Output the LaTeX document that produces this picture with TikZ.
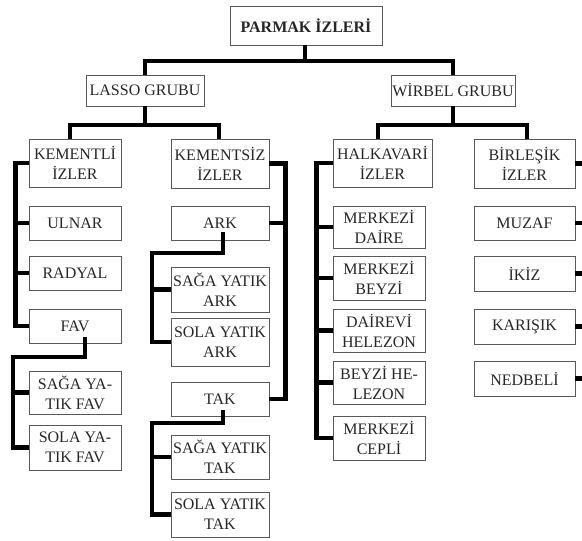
\documentclass[tikz,border=0pt]{standalone}
\usepackage{fontspec}
\setmainfont{Liberation Serif}
\begin{document}
\begin{tikzpicture}[x=1pt,y=-1pt,
  box/.style={draw=black!65, line width=0.8pt, inner sep=0pt, align=center,
    font=\fontsize{16}{20}\selectfont, text=black!85},
  bus/.style={line width=4.5pt, line join=miter}]
\useasboundingbox (0,0) rectangle (582,541);
% top levels
\node[box, font=\bfseries\fontsize{16}{20}\selectfont, minimum width=152pt, minimum height=39pt] (top) at (306,25.5) {PARMAK İZLERİ};
\node[box, minimum width=118pt, minimum height=31pt] (lasso) at (145,90.5) {LASSO GRUBU};
\node[box, minimum width=124pt, minimum height=31pt] (wirbel) at (453,90.5) {WİRBEL GRUBU};
% lasso column 1
\node[box, minimum width=92pt, minimum height=48pt] (kementli) at (75,163) {KEMENTLİ\\İZLER};
\node[box, minimum width=92pt, minimum height=34pt] (ulnar) at (75,223) {ULNAR};
\node[box, minimum width=92pt, minimum height=34pt] (radyal) at (75,273) {RADYAL};
\node[box, minimum width=92pt, minimum height=34pt] (fav) at (75,326) {FAV};
\node[box, minimum width=92pt, minimum height=43pt] (sagafav) at (75,392.5) {SAĞA YA-\\TIK FAV};
\node[box, minimum width=92pt, minimum height=45pt] (solafav) at (75,447.5) {SOLA YA-\\TIK FAV};
% lasso column 2
\node[box, minimum width=98pt, minimum height=49pt] (kementsiz) at (220,163.5) {KEMENTSİZ\\İZLER};
\node[box, minimum width=98pt, minimum height=34pt] (ark) at (220,223) {ARK};
\node[box, minimum width=98pt, minimum height=45pt] (sagaark) at (220,289.5) {SAĞA YATIK\\ARK};
\node[box, minimum width=98pt, minimum height=48pt] (solaark) at (220,342) {SOLA YATIK\\ARK};
\node[box, minimum width=98pt, minimum height=34pt] (tak) at (220,399) {TAK};
\node[box, minimum width=98pt, minimum height=44pt] (sagatak) at (220,457) {SAĞA YATIK\\TAK};
\node[box, minimum width=98pt, minimum height=45pt] (solatak) at (220,514.5) {SOLA YATIK\\TAK};
% wirbel column 1
\node[box, minimum width=99pt, minimum height=48pt] (halka) at (382.5,163) {HALKAVARİ\\İZLER};
\node[box, minimum width=92pt, minimum height=42pt] (mdaire) at (379,227) {MERKEZİ\\DAİRE};
\node[box, minimum width=92pt, minimum height=44pt] (mbeyzi) at (379,278) {MERKEZİ\\BEYZİ};
\node[box, minimum width=92pt, minimum height=43pt] (dhelezon) at (379,330.5) {DAİREVİ\\HELEZON};
\node[box, minimum width=92pt, minimum height=43pt] (bhelezon) at (379,382.5) {BEYZİ HE-\\LEZON};
\node[box, minimum width=92pt, minimum height=44pt] (mcepli) at (379,438) {MERKEZİ\\CEPLİ};
% wirbel column 2
\node[box, minimum width=101pt, minimum height=49pt] (birlesik) at (524.5,163.5) {BİRLEŞİK\\İZLER};
\node[box, minimum width=101pt, minimum height=34pt] (muzaf) at (524.5,223) {MUZAF};
\node[box, minimum width=101pt, minimum height=35pt] (ikiz) at (524.5,273.5) {İKİZ};
\node[box, minimum width=101pt, minimum height=35pt] (karisik) at (524.5,326.5) {KARIŞIK};
\node[box, minimum width=101pt, minimum height=35pt] (nedbeli) at (524.5,378.5) {NEDBELİ};
% junction coordinates
\coordinate (j0) at (305,61);
\coordinate (j1) at (145,125);
\coordinate (j2) at (453,125);
\coordinate (ak) at (152,253);
\coordinate (fk) at (13,357);
\coordinate (tk) at (152,423);
% connectors
\draw[bus] (top.south -| j0) -- (j0);
\draw[bus] (lasso.north) |- (j0) -| (wirbel.north);
\draw[bus] (lasso.south) -- (j1);
\draw[bus] ([xshift=-5pt]kementli.north) |- (j1) -| ([xshift=-1pt]kementsiz.north);
\draw[bus] (wirbel.south) -- (j2);
\draw[bus] ([xshift=-4.5pt]halka.north) |- (j2) -| ([xshift=2.5pt]birlesik.north);
% kementli bus
\draw[bus] (kementli.west) -- ++(-13,0) |- (fav.west);
\draw[bus] (ulnar.west) -- ++(-13,0);
\draw[bus] (radyal.west) -- ++(-13,0);
% fav children
\draw[bus] ([xshift=10pt,yshift=6pt]fav.south) |- (fk) |- (solafav.west);
\draw[bus] (sagafav.west) -- (sagafav.west -| fk);
% kementsiz bus
\draw[bus] (kementsiz.east) -- ++(16,0) |- (tak.east);
\draw[bus] (ark.east) -- ++(16,0);
% ark children
\draw[bus] ([xshift=3pt,yshift=8pt]ark.south) |- (ak) |- (solaark.west);
\draw[bus] (sagaark.west) -- (sagaark.west -| ak);
% tak children
\draw[bus] ([xshift=3pt,yshift=6pt]tak.south) |- (tk) |- (solatak.west);
\draw[bus] (sagatak.west) -- (sagatak.west -| tk);
% halkavari bus
\draw[bus] (halka.west) -- ++(-16,0) |- (mcepli.west);
\draw[bus] (mdaire.west) -- ++(-16,0);
\draw[bus] (mbeyzi.west) -- ++(-16,0);
\draw[bus] (dhelezon.west) -- ++(-16,0);
\draw[bus] (bhelezon.west) -- ++(-16,0);
% birlesik bus (at the right edge)
\draw[bus] (birlesik.east) -- ++(10,0) |- (nedbeli.east);
\draw[bus] (muzaf.east) -- ++(10,0);
\draw[bus] (ikiz.east) -- ++(10,0);
\draw[bus] (karisik.east) -- ++(10,0);
\end{tikzpicture}
\end{document}
